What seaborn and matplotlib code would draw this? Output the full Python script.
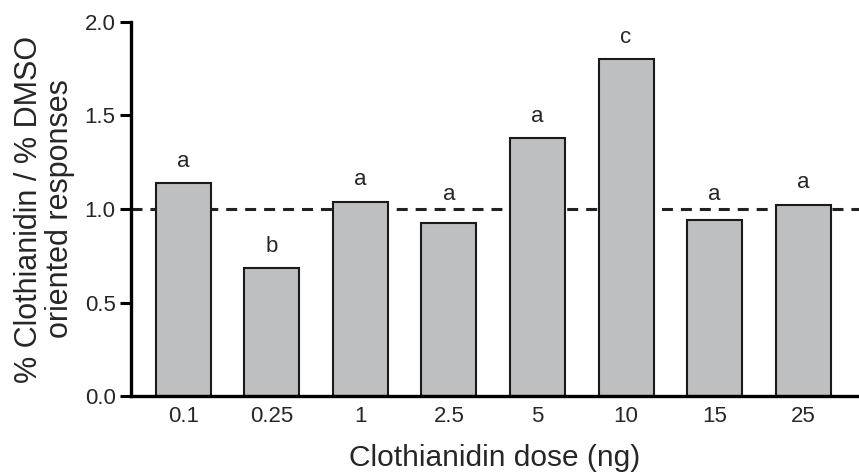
import matplotlib
matplotlib.use("Agg")
import matplotlib.pyplot as plt
import numpy as np
import pandas as pd
import seaborn as sns

# dose groups and response ratios
doses = ["0.1", "0.25", "1", "2.5", "5", "10", "15", "25"]
ratios = [1.14, 0.685, 1.04, 0.925, 1.378, 1.80, 0.943, 1.024]
letters = ["a", "b", "a", "a", "a", "c", "a", "a"]
baseline = 1.0

df = pd.DataFrame({"dose": doses, "ratio": ratios})

sns.set_style("ticks")
plt.rcParams["font.family"] = ["Liberation Sans", "DejaVu Sans"]

fig = plt.figure(figsize=(8.59, 4.75), dpi=100)
ax = fig.add_axes([0.1525, 0.1663, 0.8475, 0.7874])

sns.barplot(data=df, x="dose", y="ratio", order=doses, color="#bebfc1",
            saturation=1, edgecolor="#1a1a1a", linewidth=1.5, width=0.62, ax=ax)

ax.axhline(baseline, color="#222222", linestyle=(0, (3.6, 2.6)), linewidth=2.2, zorder=0.5)

# significance letters; bars just under the dashed line get theirs above it
for i, (v, s) in enumerate(zip(ratios, letters)):
    if baseline - v < 0.2 and v < baseline:
        y, off = baseline, 3
    else:
        y, off = v, 8
    ax.annotate(s, (i, y), xytext=(0, off), textcoords="offset points",
                ha="center", va="bottom", fontsize=16)

ax.set_xlim(-0.59, 7.63)
ax.set_ylim(0, 2.0)
ax.set_yticks([0.0, 0.5, 1.0, 1.5, 2.0])
ax.set_yticklabels(["0.0", "0.5", "1.0", "1.5", "2.0"])

sns.despine(ax=ax)
for side in ["left", "bottom"]:
    ax.spines[side].set_linewidth(2.4)
    ax.spines[side].set_color("black")
ax.tick_params(axis="y", length=8, width=2.2, labelsize=16, pad=3, color="black")
ax.tick_params(axis="x", length=0, labelsize=16, pad=7)

ax.set_xlabel("Clothianidin dose (ng)", fontsize=21.5)
ax.set_ylabel("% Clothianidin / % DMSO\noriented responses", fontsize=22,
              linespacing=1.05)
ax.xaxis.set_label_coords(0.5, -0.127)
ax.yaxis.set_label_coords(-0.077, 0.5)

fig.savefig("out.png", dpi=100)
